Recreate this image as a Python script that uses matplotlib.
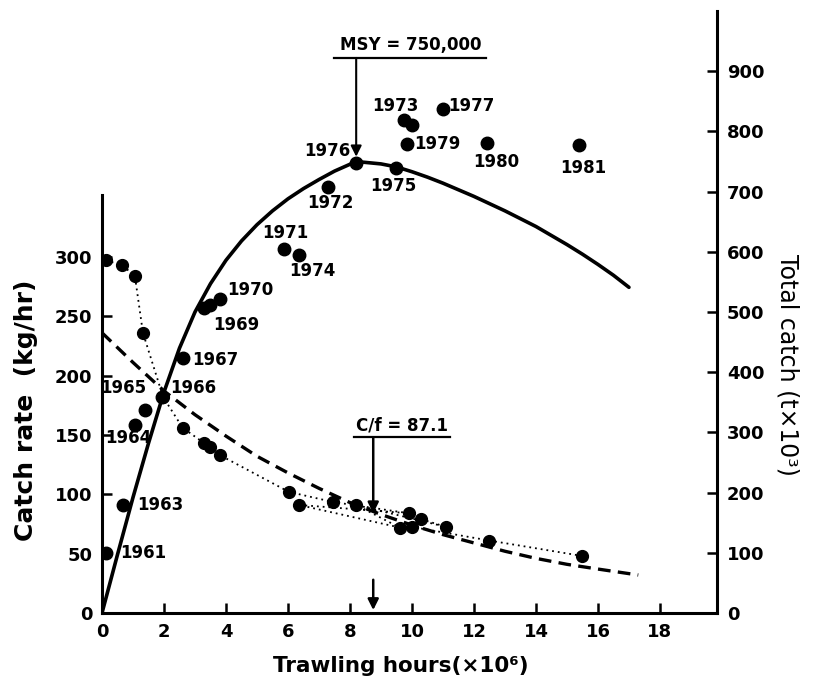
import matplotlib
matplotlib.use("Agg")
import matplotlib.pyplot as plt

# total catch per year (effort x10^6 h, catch t x10^3) - right axis
years = ["1961", "1963", "1964", "1965", "1966", "1967", "1968", "1969",
         "1970", "1971", "1972", "1973", "1974", "1975", "1976", "1977",
         "1978", "1979", "1980", "1981"]
catch_effort = [0.13, 0.69, 1.06, 1.39, 1.94, 2.62, 3.3, 3.5, 3.8, 5.87,
                7.29, 9.74, 6.35, 9.48, 8.19, 11.0, 10.0, 9.84, 12.42, 15.4]
total_catch = [100, 179, 312, 337, 358, 423, 506, 511, 522, 604,
               708, 819, 595, 740, 748, 837, 811, 779, 781, 778]

# catch rate per year (kg/hr) - left axis, joined in year order
rate_effort = [0.13, 0.64, 1.06, 1.32, 1.97, 2.6, 3.3, 3.5, 3.8, 6.03,
               7.45, 9.9, 6.35, 9.6, 8.2, 11.1, 10.3, 10.0, 12.5, 15.5]
catch_rate = [297, 293, 284, 236, 182, 156, 143, 140, 133, 102,
              93.5, 84, 91, 72, 91, 72.5, 79, 72.5, 61, 48]

# fitted yield curve
yield_effort = [0, 0.5, 1.0, 1.5, 2.0, 2.5, 3.0, 3.5, 4.0, 4.5, 5.0, 5.5,
                6.0, 6.5, 7.0, 7.5, 8.2, 9.0, 9.5, 10.0, 10.5, 11.0, 11.5,
                12.0, 12.5, 13.0, 13.5, 14.0, 14.5, 15.0, 15.5, 16.0, 16.5, 17.0]
yield_catch = [0, 97, 192, 282, 367, 440, 500, 547, 586, 618, 645, 668,
               688, 705, 720, 734, 750, 746, 741, 733, 724, 714, 703,
               692, 680, 668, 655, 642, 627, 612, 596, 579, 561, 541]

# fitted catch rate curve (dashed)
fit_effort = [0, 1, 2, 3, 4, 5, 6, 7, 8, 9, 10, 11, 12, 13, 14, 15, 16, 17.3]
fit_rate = [236, 211, 187, 167, 149, 132, 118, 105, 93, 83, 74, 66, 59,
            52, 46, 41, 37, 32]

# where each year label sits relative to its point (points), and alignment
label_pos = {
    "1961": (10, 0, "left"), "1963": (10, 0, "left"),
    "1964": (-5, -9, "center"), "1965": (-16, 16, "center"),
    "1966": (6, 6.5, "left"), "1967": (6.5, -1.5, "left"),
    "1969": (2, -14, "left"), "1970": (5, 6, "left"),
    "1971": (1, 11.5, "center"), "1972": (1.5, -12, "center"),
    "1973": (-6, 10, "center"), "1974": (10, -12, "center"),
    "1975": (-2, -13, "center"), "1976": (-4, 8.5, "right"),
    "1977": (3.5, 2, "left"), "1979": (5.5, 0, "left"),
    "1980": (6.5, -14, "center"), "1981": (3, -16.5, "center"),
}

plt.rcParams['font.family'] = ['DejaVu Sans']
plt.rcParams['font.weight'] = 'bold'

fig = plt.figure(figsize=(8.13, 6.86), dpi=100)
ax = fig.add_axes([102 / 813, 73 / 686, 615 / 813, 602 / 686])
ax2 = ax.twinx()

lw_axis = 2.2
ax.set_xlim(0, 19.84)
ax.set_ylim(0, 507)
ax2.set_ylim(0, 1000)

for s in ["top", "right"]:
    ax.spines[s].set_visible(False)
for s in ["top", "left", "bottom"]:
    ax2.spines[s].set_visible(False)
ax.spines["left"].set_bounds(0, 352)
ax.spines["left"].set_linewidth(lw_axis)
ax.spines["bottom"].set_linewidth(lw_axis)
ax2.spines["right"].set_linewidth(lw_axis)

ax.set_xticks(range(0, 19, 2))
ax.set_yticks(range(0, 301, 50))
ax2.set_yticks(range(0, 901, 100))
ax.tick_params(direction="in", length=7, width=1.8, labelsize=13, pad=7)
ax2.tick_params(direction="in", length=7, width=1.8, labelsize=13, pad=7)

# catch rate
ax.plot(fit_effort, fit_rate, color="k", lw=2.4, ls=(0, (3.8, 2.2)))
ax.plot(rate_effort, catch_rate, color="k", lw=1.3, ls=(0, (1, 2.2)),
        marker="o", ms=8.5)

# total catch
ax2.plot(yield_effort, yield_catch, color="k", lw=2.6,
         solid_capstyle="round", solid_joinstyle="round")
ax2.plot(catch_effort, total_catch, "o", color="k", ms=9)

for yr, f, c in zip(years, catch_effort, total_catch):
    if yr in label_pos:
        dx, dy, ha = label_pos[yr]
        ax2.annotate(yr, (f, c), xytext=(dx, dy), textcoords="offset points",
                     ha=ha, va="center", fontsize=12, weight="bold")

# MSY marker
ax2.text(9.95, 944, "MSY = 750,000", ha="center", va="center",
         fontsize=12, weight="bold")
ax2.plot([7.48, 12.39], [922, 922], color="k", lw=1.6)
ax2.annotate("", xy=(8.2, 758), xytext=(8.2, 922),
             arrowprops=dict(arrowstyle="-|>", lw=1.5, color="k",
                             mutation_scale=16, shrinkA=0, shrinkB=0))

# C/f marker
ax.text(9.69, 158, "C/f = 87.1", ha="center", va="center",
        fontsize=12, weight="bold")
ax.plot([8.13, 11.23], [148, 148], color="k", lw=1.6)
ax.annotate("", xy=(8.75, 84), xytext=(8.75, 148),
            arrowprops=dict(arrowstyle="-|>", lw=1.8, color="k",
                            mutation_scale=16, shrinkA=0, shrinkB=0))
ax.annotate("", xy=(8.75, 2.5), xytext=(8.75, 28),
            arrowprops=dict(arrowstyle="-|>", lw=1.8, color="k",
                            mutation_scale=16, shrinkA=0, shrinkB=0))

fig.text(26 / 813, 1 - 410 / 686, "Catch rate  (kg/hr)", rotation=90,
         ha="center", va="center", fontsize=18, weight="bold")
fig.text(401 / 813, 1 - 666 / 686, "Trawling hours(×10⁶)",
         ha="center", va="center", fontsize=15.5, weight="bold")
fig.text(787 / 813, 1 - 365 / 686, "Total catch (t×10³)", rotation=270,
         ha="center", va="center", fontsize=17, weight="normal")

fig.savefig("out.png", dpi=100)
